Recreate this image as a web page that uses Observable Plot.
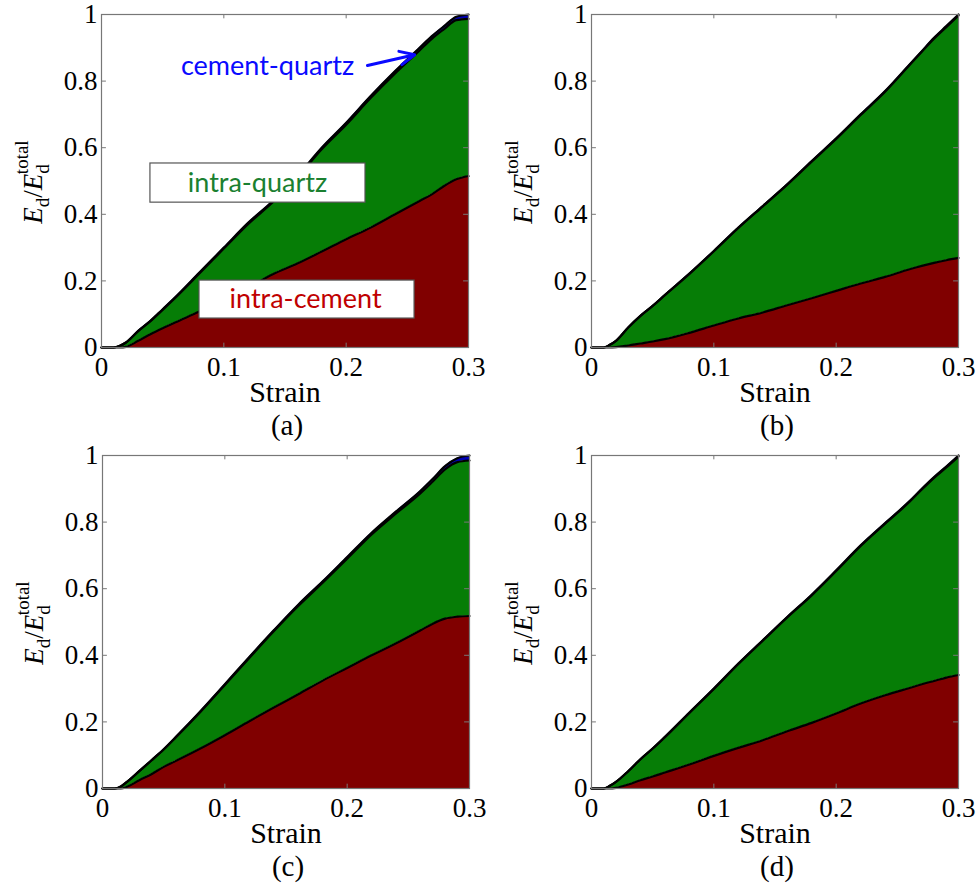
<!DOCTYPE html>
<html><head><meta charset="utf-8">
<script src="https://cdn.jsdelivr.net/npm/d3@7"></script>
<script src="https://cdn.jsdelivr.net/npm/@observablehq/plot@0.6"></script>
<style>
body{margin:0;background:#fff;}
#wrap{position:relative;width:979px;height:884px;overflow:hidden;}
.panel{position:absolute;}
svg.panel g[aria-label$="tick label"], svg.panel g[aria-label$="tick label"] text {
  font-family: 'Liberation Serif', 'Times New Roman', serif !important;
  font-size: 27px !important;
}
svg.panel text.serif-label { font-family: 'Liberation Serif', 'Times New Roman', serif !important; }
</style></head><body><div id="wrap"></div>
<script>
// ---------- data ----------
const strain = [0, 0.01, 0.015, 0.02, 0.03, 0.04, 0.05, 0.06, 0.08, 0.10, 0.12, 0.14, 0.16, 0.18, 0.20, 0.22, 0.24, 0.26, 0.27, 0.28, 0.29, 0.30];
const seriesNames = ["intra-cement", "intra-quartz", "cement-quartz"];
const panelLabels = ["(a)", "(b)", "(c)", "(d)"];

const aCement = [0, 0, 0, 0.002, 0.02, 0.04, 0.058, 0.075, 0.108, 0.143, 0.18, 0.22, 0.252, 0.288, 0.325, 0.36, 0.40, 0.44, 0.46, 0.485, 0.505, 0.515];
const aQuartz = [0, 0, 0.005, 0.013, 0.029, 0.039, 0.055, 0.073, 0.114, 0.154, 0.191, 0.216, 0.258, 0.307, 0.344, 0.389, 0.423, 0.452, 0.467, 0.471, 0.478, 0.472];
const aCQ     = [0, 0, 0, 0, 0.001, 0.001, 0.002, 0.002, 0.003, 0.003, 0.004, 0.004, 0.005, 0.005, 0.006, 0.006, 0.007, 0.008, 0.008, 0.009, 0.010, 0.013];

const bCement = [0, 0, 0, 0.001, 0.006, 0.012, 0.018, 0.025, 0.044, 0.066, 0.087, 0.105, 0.127, 0.148, 0.17, 0.192, 0.212, 0.235, 0.245, 0.254, 0.262, 0.269];
const bQuartz = [0, 0, 0.008, 0.019, 0.054, 0.083, 0.107, 0.132, 0.177, 0.223, 0.272, 0.319, 0.362, 0.41, 0.456, 0.506, 0.556, 0.613, 0.643, 0.673, 0.70, 0.728];
const bCQ     = [0, 0, 0, 0, 0, 0, 0, 0.001, 0.001, 0.001, 0.001, 0.001, 0.001, 0.002, 0.002, 0.002, 0.002, 0.002, 0.002, 0.003, 0.003, 0.003];

const cCement = [0, 0, 0, 0.005, 0.025, 0.043, 0.065, 0.083, 0.12, 0.16, 0.202, 0.243, 0.283, 0.324, 0.362, 0.40, 0.436, 0.475, 0.495, 0.51, 0.516, 0.518];
const cQuartz = [0, 0, 0.006, 0.015, 0.027, 0.041, 0.052, 0.071, 0.11, 0.151, 0.19, 0.229, 0.265, 0.294, 0.328, 0.363, 0.39, 0.412, 0.427, 0.448, 0.464, 0.467];
const cCQ     = [0, 0, 0, 0, 0, 0.001, 0.001, 0.001, 0.002, 0.002, 0.003, 0.003, 0.004, 0.004, 0.005, 0.005, 0.006, 0.007, 0.008, 0.010, 0.012, 0.015];

const dCement = [0, 0, 0, 0.002, 0.012, 0.025, 0.036, 0.048, 0.072, 0.098, 0.122, 0.145, 0.172, 0.197, 0.225, 0.255, 0.28, 0.302, 0.313, 0.323, 0.333, 0.341];
const dQuartz = [0, 0, 0.008, 0.018, 0.04, 0.063, 0.084, 0.106, 0.155, 0.201, 0.252, 0.299, 0.342, 0.383, 0.428, 0.473, 0.515, 0.559, 0.585, 0.61, 0.631, 0.656];
const dCQ     = [0, 0, 0, 0, 0, 0, 0, 0.001, 0.001, 0.001, 0.001, 0.001, 0.001, 0.002, 0.002, 0.002, 0.002, 0.002, 0.002, 0.002, 0.003, 0.003];

const xTicks = [0, 0.1, 0.2, 0.3];
const xTickLabels = ["0", "0.1", "0.2", "0.3"];
const yTicks = [0, 0.2, 0.4, 0.6, 0.8, 1];
const yTickLabels = ["0", "0.2", "0.4", "0.6", "0.8", "1"];
const xLabel = "Strain";

// annotations for panel (a), in data coordinates
const boxes = [
  {label: "intra-quartz", x1: 0.040, x2: 0.2158, y1: 0.435, y2: 0.5526, cx: 0.1275, cy: 0.493},
  {label: "intra-cement", x1: 0.0801, x2: 0.2559, y1: 0.087, y2: 0.201, cx: 0.1668, cy: 0.144}
];
const cqNote = [{label: "cement-quartz", cx: 0.1357, cy: 0.843}];
const cqArrow = [{x1: 0.2174, y1: 0.847, x2: 0.256, y2: 0.879}];

// ---------- styles ----------
const fillColors = ["#800000", "#067d06", "#0000b4"];
const noteColors = {"intra-quartz": "#1a8030", "intra-cement": "#c00000", "cement-quartz": "#0a0aff"};
const serif = "'Liberation Serif', 'Times New Roman', serif";
const sans = "Lato, 'Open Sans', sans-serif";

const panels = [
  {cement: aCement, quartz: aQuartz, cq: aCQ, left: 0, top: 0, notes: true},
  {cement: bCement, quartz: bQuartz, cq: bCQ, left: 490, top: 0, notes: false},
  {cement: cCement, quartz: cQuartz, cq: cCQ, left: 1, top: 441, notes: false},
  {cement: dCement, quartz: dQuartz, cq: dCQ, left: 490, top: 441, notes: false}
];

const wrap = document.getElementById("wrap");
panels.forEach((p, pi) => {
  const rows = [];
  const vals = [p.cement, p.quartz, p.cq];
  seriesNames.forEach((s, si) => {
    strain.forEach((x, i) => rows.push({strain: x, series: s, value: vals[si][i]}));
  });
  const innerX = xTicks.slice(1, -1), innerY = yTicks.slice(1, -1);
  const marks = [
    Plot.areaY(rows, {x: "strain", y: "value", z: "series", fill: "series", order: seriesNames, curve: "monotone-x"}),
    Plot.lineY(rows, Plot.stackY2({x: "strain", y: "value", z: "series", order: seriesNames, stroke: "black", strokeWidth: 2.2, curve: "monotone-x"})),
    Plot.ruleX(innerX, {y1: 0, y2: 0.013, stroke: "#777"}),
    Plot.ruleX(innerX, {y1: 1, y2: 0.987, stroke: "#777"}),
    Plot.ruleY(innerY, {x1: 0, x2: 0.004, stroke: "#777"}),
    Plot.ruleY(innerY, {x1: 0.3, x2: 0.296, stroke: "#777"}),
    Plot.frame({stroke: "#777", strokeWidth: 1.2}),
    Plot.axisX({ticks: xTicks, tickFormat: d => xTickLabels[xTicks.indexOf(d)], tickSize: 0, tickPadding: 9, label: null, fontSize: 27}),
    Plot.axisY({ticks: yTicks, tickFormat: d => yTickLabels[yTicks.indexOf(d)], tickSize: 0, tickPadding: 4, label: null, fontSize: 27})
  ];
  if (p.notes) {
    boxes.forEach(b => {
      marks.push(Plot.rect([b], {x1: "x1", x2: "x2", y1: "y1", y2: "y2", fill: "white", stroke: "#555", strokeWidth: 1.2}));
      marks.push(Plot.text([b], {x: "cx", y: "cy", text: "label", fill: noteColors[b.label], fontFamily: sans, fontSize: 27}));
    });
    marks.push(Plot.text(cqNote, {x: "cx", y: "cy", text: "label", fill: noteColors["cement-quartz"], fontFamily: sans, fontSize: 27}));
    marks.push(Plot.arrow(cqArrow, {x1: "x1", y1: "y1", x2: "x2", y2: "y2", stroke: noteColors["cement-quartz"], strokeWidth: 3, headLength: 14, headAngle: 50}));
  }
  const svg = Plot.plot({
    width: 490, height: 440,
    marginLeft: 101, marginRight: 22, marginTop: 14, marginBottom: 93,
    x: {domain: [0, 0.3]},
    y: {domain: [0, 1]},
    color: {domain: seriesNames, range: fillColors},
    style: {fontFamily: serif, fontSize: "27px", background: "white", color: "black", overflow: "visible"},
    marks
  });
  svg.classList.add("panel");
  svg.style.left = p.left + "px";
  svg.style.top = p.top + "px";
  const s = d3.select(svg);
  // y label E_d / E_d^total
  const t = s.append("text").attr("class", "serif-label").attr("transform", "translate(42,182) rotate(-90)")
    .attr("text-anchor", "middle").attr("font-size", 27).attr("fill", "black");
  t.append("tspan").attr("font-style", "italic").text("E");
  t.append("tspan").attr("font-size", 19).attr("dy", 7).text("d");
  t.append("tspan").attr("dy", -7).text("/");
  t.append("tspan").attr("font-style", "italic").text("E");
  t.append("tspan").attr("font-size", 19).attr("dy", 7).text("d");
  t.append("tspan").attr("font-size", 19).attr("dx", -10).attr("dy", -21).text("total");
  // x label and panel caption
  s.append("text").attr("class", "serif-label").attr("x", 285).attr("y", 402).attr("text-anchor", "middle")
    .attr("font-size", 30).attr("fill", "black").text(xLabel);
  s.append("text").attr("class", "serif-label").attr("x", 287).attr("y", 435).attr("text-anchor", "middle")
    .attr("font-size", 29).attr("fill", "black").text(panelLabels[pi]);
  wrap.appendChild(svg);
});
</script></body></html>
